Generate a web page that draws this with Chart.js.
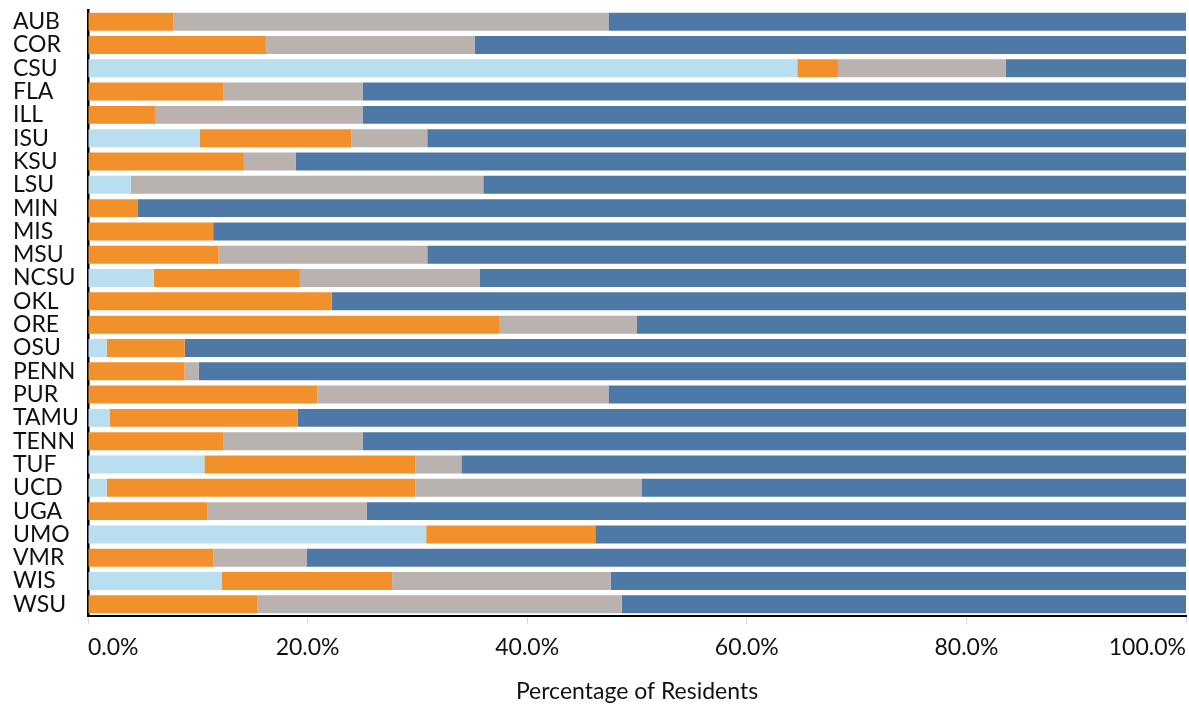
<!DOCTYPE html>
<html>
<head>
<meta charset="utf-8">
<script src="https://cdn.jsdelivr.net/npm/chart.js@4/dist/chart.umd.min.js"></script>
<style>
  html, body { margin: 0; padding: 0; background: #fff; }
  #wrap { width: 1189px; height: 709px; position: relative; }
</style>
</head>
<body>
<div id="wrap"><canvas id="c" width="1189" height="709"></canvas></div>
<script>
const categories = ["AUB","COR","CSU","FLA","ILL","ISU","KSU","LSU","MIN","MIS","MSU","NCSU","OKL","ORE","OSU","PENN","PUR","TAMU","TENN","TUF","UCD","UGA","UMO","VMR","WIS","WSU"];

const seriesLightBlue = [0, 0, 64.6, 0, 0, 10.2, 0, 3.9, 0, 0, 0, 6.0, 0, 0, 1.7, 0, 0, 2.0, 0, 10.6, 1.7, 0, 30.8, 0, 12.2, 0];
const seriesOrange    = [7.8, 16.2, 3.7, 12.3, 6.1, 13.8, 14.2, 0, 4.5, 11.4, 11.9, 13.3, 22.2, 37.5, 7.1, 8.8, 20.9, 17.1, 12.3, 19.2, 28.1, 10.9, 15.4, 11.4, 15.5, 15.4];
const seriesGray      = [39.6, 19.0, 15.3, 12.7, 18.9, 6.9, 4.7, 32.1, 0, 0, 19.0, 16.4, 0, 12.5, 0, 1.3, 26.5, 0, 12.7, 4.2, 20.6, 14.5, 0, 8.5, 19.9, 33.2];
const seriesBlue      = [52.6, 64.8, 16.4, 75.0, 75.0, 69.1, 81.1, 64.0, 95.5, 88.6, 69.1, 64.3, 77.8, 50.0, 91.2, 89.9, 52.6, 80.9, 75.0, 66.0, 49.6, 74.6, 53.8, 80.1, 52.4, 51.4];

const xTicks = [0, 20, 40, 60, 80, 100];
const xTitle = "Percentage of Residents";

const FONT = "Lato, 'Open Sans', sans-serif";

function ds(label, data, color) {
  return { label, data, backgroundColor: color, borderWidth: 0, barPercentage: 0.77, categoryPercentage: 1.0 };
}

new Chart(document.getElementById('c'), {
  type: 'bar',
  data: {
    labels: categories,
    datasets: [
      ds('Series 1', seriesLightBlue, '#B8DEF0'),
      ds('Series 2', seriesOrange, '#F2902C'),
      ds('Series 3', seriesGray, '#BAB2AE'),
      ds('Series 4', seriesBlue, '#4E79A7')
    ]
  },
  options: {
    indexAxis: 'y',
    responsive: false,
    animation: false,
    layout: { padding: { left: 13, right: 3, top: 10, bottom: 0 } },
    plugins: { legend: { display: false }, tooltip: { enabled: false } },
    scales: {
      x: {
        stacked: true,
        min: 0, max: 100,
        afterBuildTicks: (s) => { s.ticks = xTicks.map(v => ({ value: v })); },
        ticks: {
          align: 'inner',
          color: '#111',
          font: { family: FONT, size: 23 },
          padding: 10,
          callback: (v) => Number(v).toFixed(1) + '%'
        },
        grid: { drawOnChartArea: false, drawTicks: true, tickLength: 8, color: '#d9d9d9' },
        border: { display: true, color: '#000', width: 2 },
        title: { display: true, text: xTitle, color: '#111', font: { family: FONT, size: 23 }, padding: { top: 11, bottom: 4 } },
        afterFit: (s) => { s.height = 93; s.paddingLeft = 0; s.paddingRight = 0; }
      },
      y: {
        stacked: true,
        ticks: {
          crossAlign: 'far',
          color: '#111',
          font: { family: FONT, size: 23 },
          autoSkip: false,
          padding: 0
        },
        grid: { display: false, drawTicks: false },
        border: { display: true, color: '#000', width: 2.5 },
        afterFit: (s) => { s.width = 75; s.paddingTop = 0; s.paddingBottom = 0; }
      }
    }
  }
});
</script>
</body>
</html>
